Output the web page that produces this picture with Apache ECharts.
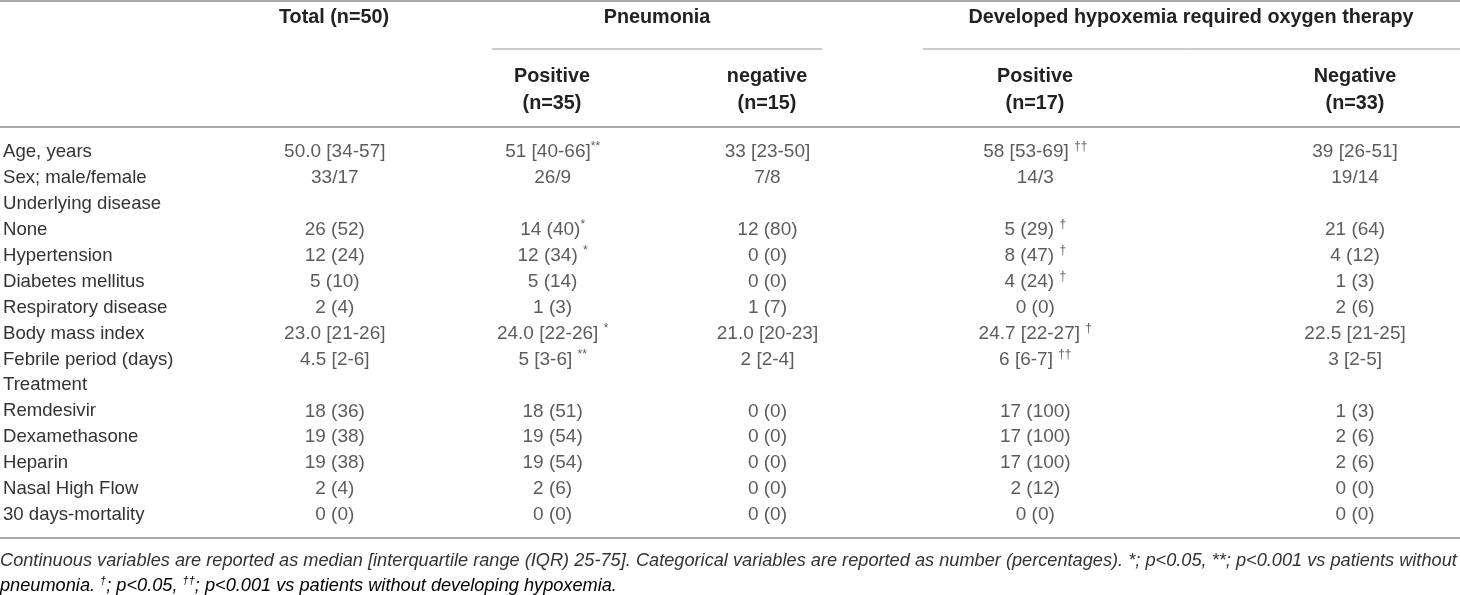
<!DOCTYPE html>
<html>
<head>
<meta charset="utf-8">
<script src="https://cdn.jsdelivr.net/npm/echarts@6/dist/echarts.min.js"></script>
<style>
  html, body { margin: 0; padding: 0; background: #fff; }
  #chart { width: 1460px; height: 595px; }
</style>
</head>
<body>
<div id="chart"></div>
<script>
// table content; "^" marks the start of a superscript note
const rowLabels = [
  "Age, years", "Sex; male/female", "Underlying disease", "None", "Hypertension",
  "Diabetes mellitus", "Respiratory disease", "Body mass index", "Febrile period (days)",
  "Treatment", "Remdesivir", "Dexamethasone", "Heparin", "Nasal High Flow", "30 days-mortality"
];
const totalCol = ["50.0 [34-57]", "33/17", "", "26 (52)", "12 (24)", "5 (10)", "2 (4)",
  "23.0 [21-26]", "4.5 [2-6]", "", "18 (36)", "19 (38)", "19 (38)", "2 (4)", "0 (0)"];
const pneumoniaPos = ["51 [40-66]^**", "26/9", "", "14 (40)^*", "12 (34) ^*", "5 (14)", "1 (3)",
  "24.0 [22-26] ^*", "5 [3-6] ^**", "", "18 (51)", "19 (54)", "19 (54)", "2 (6)", "0 (0)"];
const pneumoniaNeg = ["33 [23-50]", "7/8", "", "12 (80)", "0 (0)", "0 (0)", "1 (7)",
  "21.0 [20-23]", "2 [2-4]", "", "0 (0)", "0 (0)", "0 (0)", "0 (0)", "0 (0)"];
const hypoxemiaPos = ["58 [53-69] ^††", "14/3", "", "5 (29) ^†", "8 (47) ^†", "4 (24) ^†", "0 (0)",
  "24.7 [22-27] ^†", "6 [6-7] ^††", "", "17 (100)", "17 (100)", "17 (100)", "2 (12)", "0 (0)"];
const hypoxemiaNeg = ["39 [26-51]", "19/14", "", "21 (64)", "4 (12)", "1 (3)", "2 (6)",
  "22.5 [21-25]", "3 [2-5]", "", "1 (3)", "2 (6)", "2 (6)", "0 (0)", "0 (0)"];

const groupHeaders = ["Total (n=50)", "Pneumonia", "Developed hypoxemia required oxygen therapy"];
const subHeaders = ["Positive\n(n=35)", "negative\n(n=15)", "Positive\n(n=17)", "Negative\n(n=33)"];
const footLine1 = "Continuous variables are reported as median [interquartile range (IQR) 25-75]. Categorical variables are reported as number (percentages). *; p<0.05, **; p<0.001 vs patients without";
const footLine2 = ["pneumonia. ", "†", "; p<0.05, ", "††", "; p<0.001 vs patients without developing hypoxemia."];

// layout (pixels)
const W = 1460;
const colX = [334, 552, 767, 1035, 1355];
const FONT = "'Liberation Sans', Arial, sans-serif";
const TXT = "#333";

const columns = [totalCol, pneumoniaPos, pneumoniaNeg, hypoxemiaPos, hypoxemiaNeg];

const richCell = {
  n: { fontSize: 19, fontFamily: FONT, color: TXT, lineHeight: 22 },
  s: { fontSize: 12, fontFamily: FONT, color: TXT, lineHeight: 22, verticalAlign: "top" }
};

const cellFormatter = (p) => {
  const parts = p.value[2].split("^");
  let out = "{n|" + parts[0] + "}";
  if (parts[1]) out += "{s|" + parts[1] + "}";
  return out;
};

const series = columns.map((col, c) => ({
  type: "scatter",
  silent: true,
  symbolSize: 1,
  itemStyle: { color: "rgba(0,0,0,0)" },
  data: col.map((v, i) => [colX[c], i, v]).filter(d => d[2] !== ""),
  label: {
    show: true,
    position: "inside",
    formatter: cellFormatter,
    rich: richCell
  }
}));

const hline = (x1, x2, y, w, color) => ({
  type: "line",
  shape: { x1, y1: y, x2, y2: y },
  style: { stroke: color, lineWidth: w }
});

const headText = (x, y, text, lh) => ({
  type: "text",
  x, y,
  style: {
    text, fill: "#222", font: "bold 19.8px " + FONT,
    align: "center", verticalAlign: "middle", lineHeight: lh || 22
  }
});

const chart = echarts.init(document.getElementById("chart"));
chart.setOption({
  animation: false,
  grid: { left: 0, right: 0, top: 139, height: 389 },
  xAxis: { type: "value", min: 0, max: W, show: false },
  yAxis: {
    type: "category",
    data: rowLabels,
    inverse: true,
    axisLine: { show: false },
    axisTick: { show: false },
    splitLine: { show: false },
    axisLabel: {
      interval: 0, align: "left", margin: -2,
      fontSize: 18.6, fontFamily: FONT, color: TXT
    }
  },
  series,
  graphic: [
    hline(0, W, 1, 2, "#aaa"),
    hline(492, 822, 49, 1, "#999"),
    hline(923, W, 49, 1, "#999"),
    hline(0, W, 127, 2, "#aaa"),
    hline(0, W, 538, 2, "#aaa"),
    headText(colX[0], 18, groupHeaders[0]),
    headText(657, 18, groupHeaders[1]),
    headText(1191, 18, groupHeaders[2]),
    ...subHeaders.map((t, i) => headText(colX[i + 1], 90, t, 27)),
    {
      type: "text", x: 0, y: 561,
      style: {
        text: footLine1, fill: TXT, font: "italic 18.2px " + FONT,
        verticalAlign: "middle"
      }
    },
    {
      type: "text", x: 0, y: 586,
      style: {
        text: footLine2.map((t, i) => (i % 2 ? "{s|" : "{n|") + t + "}").join(""),
        verticalAlign: "middle",
        rich: {
          n: { fontSize: 18.2, fontStyle: "italic", fontFamily: FONT, color: TXT, lineHeight: 22 },
          s: { fontSize: 11, fontStyle: "italic", fontFamily: FONT, color: TXT, lineHeight: 22, verticalAlign: "top" }
        }
      }
    }
  ]
});
</script>
</body>
</html>
